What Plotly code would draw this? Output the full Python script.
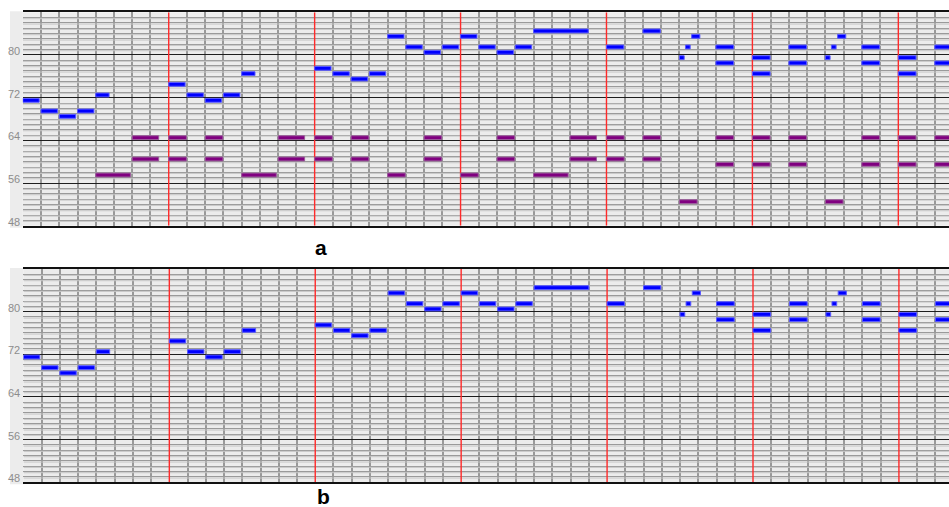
import plotly.graph_objects as go

# ---------------- data ----------------
# melody (blue) notes: start column (beats), MIDI pitch, duration (beats)
melody_start = [0, 1, 2, 3, 4, 8, 9, 10, 11, 12, 16, 17, 18, 19, 20, 21, 22, 23, 24, 25, 26, 27, 28,
                32, 34, 36, 36.33, 36.67, 38, 38, 40, 40, 42, 42, 44, 44.33, 44.67, 46, 46, 48, 48, 50, 50]
melody_pitch = [71, 69, 68, 69, 72, 74, 72, 71, 72, 76, 77, 76, 75, 76, 83, 81, 80, 81, 83, 81, 80, 81, 84,
                81, 84, 79, 81, 83, 81, 78, 79, 76, 81, 78, 79, 81, 83, 81, 78, 79, 76, 81, 78]
melody_dur = [0.9, 0.9, 0.9, 0.9, 0.73, 0.9, 0.9, 0.9, 0.9, 0.73, 0.9, 0.9, 0.9, 0.9, 0.9, 0.9, 0.9, 0.9, 0.9, 0.9, 0.9, 0.9, 3.0,
              0.95, 0.95, 0.26, 0.26, 0.45, 0.97, 0.97, 0.97, 0.97, 0.97, 0.97, 0.26, 0.26, 0.45, 0.97, 0.97, 0.97, 0.97, 0.97, 0.97]

# accompaniment (purple) notes
accomp_start = [4, 6, 6, 8, 8, 10, 10, 12, 14, 14, 16, 16, 18, 18, 20, 22, 22, 24, 26, 26, 28, 30, 30,
                32, 32, 34, 34, 36, 38, 38, 40, 40, 42, 42, 44, 46, 46, 48, 48, 50, 50]
accomp_pitch = [57, 64, 60, 64, 60, 64, 60, 57, 64, 60, 64, 60, 64, 60, 57, 64, 60, 57, 64, 60, 57, 64, 60,
                64, 60, 64, 60, 52, 64, 59, 64, 59, 64, 59, 52, 64, 59, 64, 59, 64, 59]
accomp_dur = [1.9, 1.45, 1.45, 0.97, 0.97, 0.97, 0.97, 1.9, 1.45, 1.45, 0.97, 0.97, 0.97, 0.97, 0.97, 0.97, 0.97, 0.97, 0.97, 0.97, 1.9, 1.45, 1.45,
              0.97, 0.97, 0.97, 0.97, 0.97, 0.97, 0.97, 0.97, 0.97, 0.97, 0.97, 0.97, 0.97, 0.97, 0.97, 0.97, 0.97, 0.97]

pitch_labels = [48, 56, 64, 72, 80]
panel_labels = ["a", "b"]

# ---------------- layout helpers ----------------
W, H = 949, 507
PITCH_MIN, PITCH_MAX = 48, 88
COL_PX = 18.24

panels = [
    dict(top=12.3, bottom=225.7, left=22.8, xa="x", ya="y", show_accomp=True, label_y=247, label_x=321),
    dict(top=269.0, bottom=482.3, left=23.4, xa="x2", ya="y2", show_accomp=False, label_y=496, label_x=323),
]

fig = go.Figure()
layout = dict(width=W, height=H, margin=dict(l=0, r=0, t=0, b=0),
              paper_bgcolor="white", plot_bgcolor="#ececec",
              showlegend=False, barmode="overlay")
shapes = []
annotations = []

for i, p in enumerate(panels):
    xname = "xaxis" if i == 0 else "xaxis2"
    yname = "yaxis" if i == 0 else "yaxis2"
    xr = (W - p["left"]) / COL_PX
    layout[xname] = dict(domain=[p["left"] / W, 1], range=[0, xr], anchor=p["ya"],
                         showticklabels=False, ticks="", zeroline=False, showgrid=False,
                         minor=dict(tickvals=[c for c in range(0, 52) if c == 0 or c % 8],
                                    gridcolor="#999999", gridwidth=2, showgrid=True),
                         showline=True, mirror=True, linecolor="#111111", linewidth=2)
    layout[yname] = dict(domain=[1 - p["bottom"] / H, 1 - p["top"] / H], range=[PITCH_MIN, PITCH_MAX],
                         anchor=p["xa"], showticklabels=False, ticks="", zeroline=False,
                         tickvals=list(range(PITCH_MIN, PITCH_MAX + 1, 8)), gridcolor="#1e1e1e", gridwidth=1.3,
                         minor=dict(tickvals=list(range(PITCH_MIN, PITCH_MAX + 1)), gridcolor="#9a9a9a",
                                    gridwidth=1, showgrid=True),
                         showline=False)
    # light secondary row lines
    for k in range(PITCH_MIN + 1, PITCH_MAX):
        if (k - PITCH_MIN) % 8 == 0:
            continue
        shapes.append(dict(type="line", xref=p["xa"], yref=p["ya"], x0=0, x1=xr, y0=k - 0.2, y1=k - 0.2,
                           line=dict(color="#c6c6c6", width=1), layer="between"))
    # red bar lines every 8 beats
    for c in range(8, int(xr) + 1, 8):
        shapes.append(dict(type="line", xref=p["xa"], yref=p["ya"], x0=c, x1=c, y0=PITCH_MIN, y1=PITCH_MAX,
                           line=dict(color="#ff2a2a", width=1.4), layer="between"))
    # grey label strip
    shapes.append(dict(type="rect", xref="paper", yref="paper", x0=10 / W, x1=p["left"] / W,
                       y0=1 - (p["bottom"] + 2) / H, y1=1 - (p["top"] - 1) / H,
                       fillcolor="#ececec", line=dict(width=0), layer="below"))
    # pitch labels
    for v in pitch_labels:
        annotations.append(dict(x=(p["left"] - 1) / W, xref="paper", y=v, yref=p["ya"],
                                text=str(v), showarrow=False, xanchor="right", yanchor="middle", yshift=4,
                                font=dict(family="Liberation Sans, Arial, sans-serif", size=11, color="#8c8c8c")))
    # panel letter
    annotations.append(dict(x=p["label_x"] / W, xref="paper", y=1 - p["label_y"] / H, yref="paper",
                            text="<b>%s</b>" % panel_labels[i], showarrow=False, xanchor="center", yanchor="middle",
                            font=dict(family="Liberation Sans, Arial, sans-serif", size=21, color="black")))

    if p["show_accomp"]:
        fig.add_trace(go.Bar(orientation="h", base=accomp_start, x=accomp_dur,
                             y=[v + 0.5 for v in accomp_pitch], width=0.72,
                             marker=dict(color="#800080", line=dict(color="#9a5c9a", width=1)),
                             xaxis=p["xa"], yaxis=p["ya"], hoverinfo="skip"))
    fig.add_trace(go.Bar(orientation="h", base=melody_start, x=melody_dur,
                         y=[v + 0.5 for v in melody_pitch], width=0.72,
                         marker=dict(color="#0000ff", line=dict(color="#5a5aff", width=1)),
                         xaxis=p["xa"], yaxis=p["ya"], hoverinfo="skip"))

layout["shapes"] = shapes
layout["annotations"] = annotations
fig.update_layout(**layout)
fig.write_html("out.html", config={"displayModeBar": False},
               post_script="document.body.style.margin='0';document.body.style.overflow='hidden';")
